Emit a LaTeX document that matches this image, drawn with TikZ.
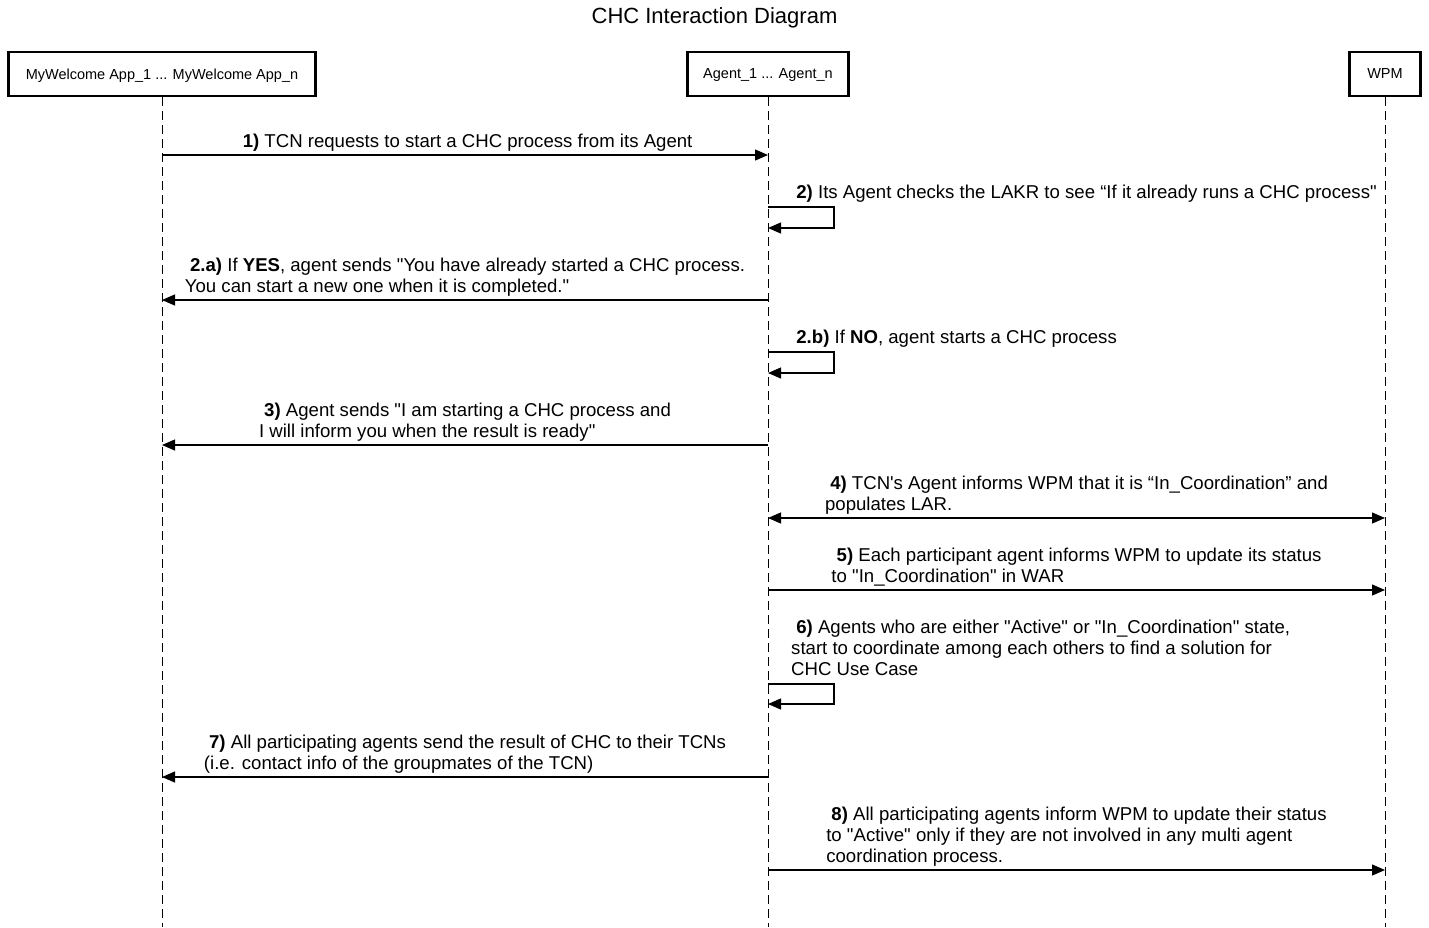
\documentclass[tikz,border=0pt]{standalone}
\usepackage{fontspec}
\setmainfont{Liberation Sans}[Ligatures=TeXOff]
\usetikzlibrary{arrows.meta}
\begin{document}
\begin{tikzpicture}[x=1pt,y=-1pt,
  >={Triangle[length=13pt,width=11pt]},
  head/.style={draw,line width=2.5pt,minimum height=44pt,inner sep=0pt,text depth=0pt,font=\fontsize{14.5}{16}\selectfont},
  lifeline/.style={line width=0.9pt,dash pattern=on 9pt off 5pt},
  msg/.style={line width=1.2pt,->},
  lbl/.style={align=left,inner sep=0pt,font=\fontsize{18.6}{21}\selectfont}]
\useasboundingbox (0,0) rectangle (1429,927);
\node[font=\fontsize{22}{26}\selectfont] (title) at (714.5,18) {CHC Interaction Diagram};
% participants
\node[head,minimum width=307pt] (app) at (162,74) {MyWelcome App\_1 ... MyWelcome App\_n};
\node[head,minimum width=161pt] (agent) at (768,74) {Agent\_1 ... Agent\_n};
\node[head,minimum width=71pt] (wpm) at (1385,74) {WPM};
\coordinate (bottom) at (0,927);
\draw[lifeline] (app.south) -- (app |- bottom);
\draw[lifeline] (agent.south) -- (agent |- bottom);
\draw[lifeline] (wpm.south) -- (wpm |- bottom);
% message rows
\coordinate (m1) at (0,155);
\coordinate (m2) at (0,207);  \coordinate (m2r) at (0,228);
\coordinate (m2a) at (0,300);
\coordinate (m2b) at (0,352); \coordinate (m2br) at (0,373);
\coordinate (m3) at (0,445);
\coordinate (m4) at (0,518);
\coordinate (m5) at (0,590);
\coordinate (m6) at (0,684); \coordinate (m6r) at (0,704);
\coordinate (m7) at (0,777);
\coordinate (m8) at (0,870);
% 1
\draw[msg] (app |- m1) -- node[lbl,above=3pt] {\ \textbf{1)} TCN requests to start a CHC process from its Agent} (agent |- m1);
% 2
\draw[msg] (agent |- m2) -| ([xshift=66pt]agent |- m2r) -- (agent |- m2r);
\node[lbl,anchor=south west] (l2) at ([xshift=23pt,yshift=4pt]agent |- m2) {\ \textbf{2)} Its Agent checks the LAKR to see “If it already runs a CHC process"};
% 2.a
\draw[msg] (agent |- m2a) -- node[lbl,above=3pt] {\ \textbf{2.a)} If \textbf{YES}, agent sends "You have already started a CHC process.\\You can start a new one when it is completed."} (app |- m2a);
% 2.b
\draw[msg] (agent |- m2b) -| ([xshift=66pt]agent |- m2br) -- (agent |- m2br);
\node[lbl,anchor=south west] (l2b) at ([xshift=23pt,yshift=4pt]agent |- m2b) {\ \textbf{2.b)} If \textbf{NO}, agent starts a CHC process};
% 3
\draw[msg] (agent |- m3) -- node[lbl,above=3pt] {\ \textbf{3)} Agent sends "I am starting a CHC process and\\I will inform you when the result is ready"} (app |- m3);
% 4
\draw[msg,<->] (agent |- m4) -- node[lbl,above=3pt] {\ \textbf{4)} TCN's Agent informs WPM that it is “In\_Coordination” and\\populates LAR.} (wpm |- m4);
% 5
\draw[msg] (agent |- m5) -- node[lbl,above=3pt] {\ \textbf{5)} Each participant agent informs WPM to update its status\\to "In\_Coordination" in WAR} (wpm |- m5);
% 6
\draw[msg] (agent |- m6) -| ([xshift=66pt]agent |- m6r) -- (agent |- m6r);
\node[lbl,anchor=south west] (l6) at ([xshift=23pt,yshift=8pt]agent |- m6) {\ \textbf{6)} Agents who are either "Active" or "In\_Coordination" state,\\start to coordinate among each others to find a solution for\\CHC Use Case};
% 7
\draw[msg] (agent |- m7) -- node[lbl,above=3pt] {\ \textbf{7)} All participating agents send the result of CHC to their TCNs\\(i.e. contact info of the groupmates of the TCN)} (app |- m7);
% 8
\draw[msg] (agent |- m8) -- node[lbl,above=3pt] {\ \textbf{8)} All participating agents inform WPM to update their status\\to "Active" only if they are not involved in any multi agent\\coordination process.} (wpm |- m8);
\end{tikzpicture}
\end{document}
